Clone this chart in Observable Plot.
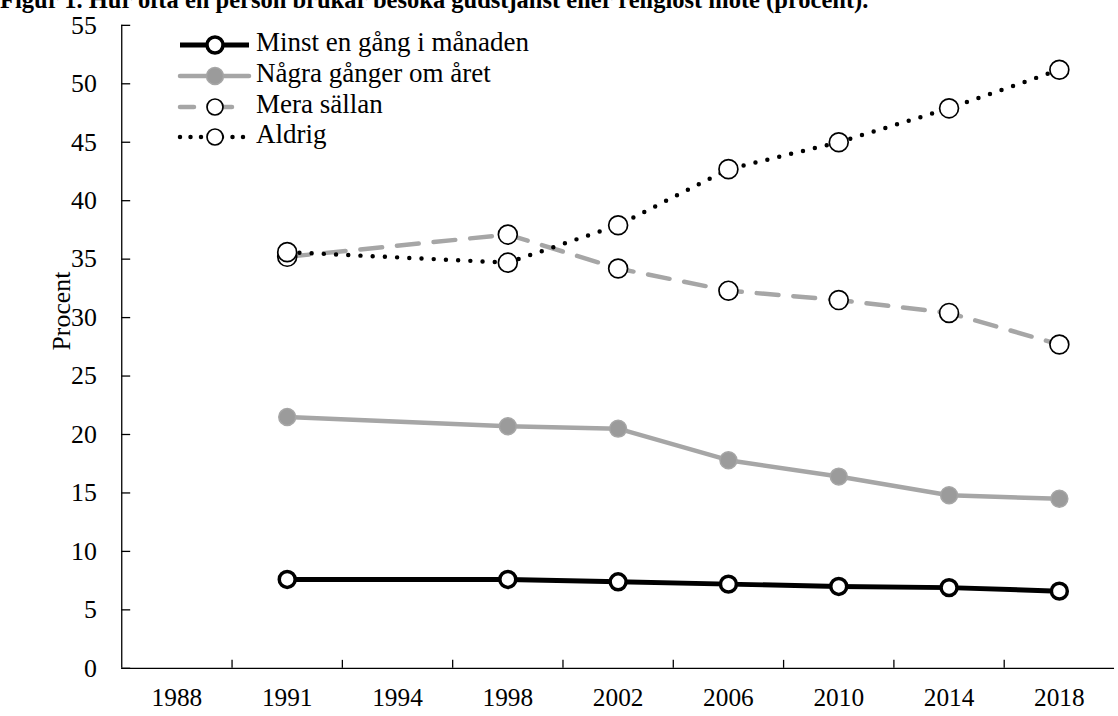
<!DOCTYPE html>
<html>
<head>
<meta charset="utf-8">
<script src="https://cdn.jsdelivr.net/npm/d3@7"></script>
<script src="https://cdn.jsdelivr.net/npm/@observablehq/plot@0.6"></script>
<style>
  html, body { margin: 0; padding: 0; background: #fff; overflow: hidden; width: 1118px; height: 716px; }
  body { position: relative; font-family: "Liberation Serif", "Times New Roman", serif; }
  #title { position: absolute; left: 0px; top: -14px; white-space: nowrap; font-weight: bold; font-size: 24.5px; line-height: 28px; color: #000; }
  #chart { position: absolute; left: 0; top: 0; }
  #legend { position: absolute; left: 0; top: 0; }
</style>
</head>
<body>
<div id="chart"></div>
<div id="title">Figur 1. Hur ofta en person brukar besöka gudstjänst eller religiöst möte (procent).</div>
<svg id="legend" width="600" height="160"></svg>
<script>
// ---- Data ----
const years = ["1988", "1991", "1994", "1998", "2002", "2006", "2010", "2014", "2018"];
const surveyYears = ["1991", "1998", "2002", "2006", "2010", "2014", "2018"];
const minst = [7.6, 7.6, 7.4, 7.2, 7.0, 6.9, 6.6];
const nagra = [21.5, 20.7, 20.5, 17.8, 16.4, 14.8, 14.5];
const mera = [35.2, 37.1, 34.2, 32.3, 31.5, 30.4, 27.7];
const aldrig = [35.6, 34.7, 37.9, 42.7, 45.0, 47.9, 51.2];
const yTicks = [0, 5, 10, 15, 20, 25, 30, 35, 40, 45, 50, 55];
const seriesNames = ["Minst en gång i månaden", "Några gånger om året", "Mera sällan", "Aldrig"];
const yLabel = "Procent";

const toRows = (vals) => surveyYears.map((y, i) => ({ xi: years.indexOf(y), v: vals[i] }));
const rMinst = toRows(minst), rNagra = toRows(nagra), rMera = toRows(mera), rAldrig = toRows(aldrig);
const boundaries = d3.range(0.5, years.length - 1);

const GRAY = "#a6a6a6";
const FONT = "'Liberation Serif', 'Times New Roman', serif";

const chart = Plot.plot({
  width: 1125,
  height: 716,
  marginLeft: 122,
  marginRight: 4,
  marginTop: 25,
  marginBottom: 44,
  style: { fontFamily: FONT, fontSize: "26px", color: "#000", background: "transparent" },
  x: { type: "linear", domain: [-0.5, years.length - 0.5] },
  y: { domain: [0, 55] },
  marks: [
    // inward tick marks
    Plot.axisY({ ticks: yTicks, tickSize: -9, tickFormat: () => "", label: null, stroke: "#000", strokeWidth: 1.3 }),
    Plot.axisY({ ticks: yTicks, tickSize: 0, tickPadding: 25, label: null, fontSize: 26 }),
    Plot.axisX({ ticks: boundaries, tickFormat: () => "", tickSize: -8, label: null, stroke: "#000", strokeWidth: 1.3 }),
    Plot.axisX({ ticks: d3.range(years.length), tickFormat: (i) => years[i], tickSize: 0, tickPadding: 20, label: null, fontSize: 25.5 }),
    Plot.text([yLabel], { frameAnchor: "left", textAnchor: "middle", rotate: -90, dx: -60, dy: -36, fontSize: 26 }),
    Plot.ruleX([-0.5], { stroke: "#000", strokeWidth: 1.3 }),
    Plot.ruleY([0], { stroke: "#000", strokeWidth: 1.3 }),
    // Minst en gång i månaden
    Plot.line(rMinst, { x: "xi", y: "v", stroke: "#000", strokeWidth: 5 }),
    Plot.dot(rMinst, { x: "xi", y: "v", r: 8, fill: "#fff", stroke: "#000", strokeWidth: 3.5 }),
    // Några gånger om året
    Plot.line(rNagra, { x: "xi", y: "v", stroke: GRAY, strokeWidth: 4.5 }),
    Plot.dot(rNagra, { x: "xi", y: "v", r: 8.5, fill: "#9b9b9b", stroke: GRAY, strokeWidth: 1.5 }),
    // Mera sällan
    Plot.line(rMera, { x: "xi", y: "v", stroke: GRAY, strokeWidth: 4.5, strokeDasharray: "22,15", strokeLinecap: "round" }),
    Plot.dot(rMera, { x: "xi", y: "v", r: 9.5, fill: "#fff", stroke: "#000", strokeWidth: 1.7 }),
    // Aldrig
    Plot.line(rAldrig, { x: "xi", y: "v", stroke: "#000", strokeWidth: 4.5, strokeDasharray: "0,12.3", strokeLinecap: "round" }),
    Plot.dot(rAldrig, { x: "xi", y: "v", r: 9.5, fill: "#fff", stroke: "#000", strokeWidth: 1.7 })
  ]
});
document.getElementById("chart").appendChild(chart);

// ---- Legend ----
const legendSpec = [
  { stroke: "#000", sw: 5, dash: null, cap: "butt", mfill: "#fff", mstroke: "#000", msw: 3.5, r: 8 },
  { stroke: GRAY, sw: 4.5, dash: null, cap: "round", mfill: "#9b9b9b", mstroke: GRAY, msw: 1.5, r: 8.5 },
  { stroke: GRAY, sw: 4.5, dash: "14,24", cap: "round", mfill: "#fff", mstroke: "#000", msw: 1.7, r: 8 },
  { stroke: "#000", sw: 4.5, dash: "0,10.5", cap: "round", mfill: "#fff", mstroke: "#000", msw: 1.7, r: 8 }
];
const leg = d3.select("#legend");
const rowY = [45, 76, 107, 137];
seriesNames.forEach((name, i) => {
  const s = legendSpec[i];
  const g = leg.append("g").attr("transform", `translate(0,${rowY[i]})`);
  g.append("line").attr("x1", 180).attr("x2", 249).attr("y1", 0).attr("y2", 0)
    .attr("stroke", s.stroke).attr("stroke-width", s.sw).attr("stroke-linecap", s.cap)
    .attr("stroke-dasharray", s.dash);
  g.append("circle").attr("cx", 215).attr("cy", 0).attr("r", s.r)
    .attr("fill", s.mfill).attr("stroke", s.mstroke).attr("stroke-width", s.msw);
  g.append("text").attr("x", 256).attr("y", 6)
    .attr("font-family", FONT).attr("font-size", 27)
    .text(name);
});
</script>
</body>
</html>
